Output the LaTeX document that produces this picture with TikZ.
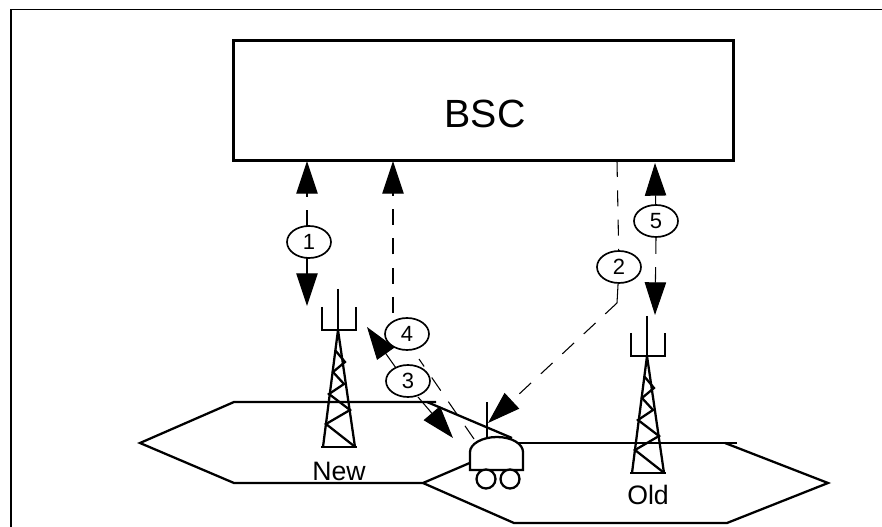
\documentclass[tikz,border=0pt]{standalone}
\usepackage{fontspec}
\setmainfont{Liberation Sans}
\usetikzlibrary{arrows.meta,shapes.geometric}
\tikzset{
  x=0.75pt,y=-0.75pt,
  thickline/.style={line width=1.7pt,line join=miter,black},
  sig/.style={line width=0.8pt,dash pattern=on 12pt off 10pt,black},
  tipstyle/.tip={Triangle[length=24.5pt,width=16pt,black]},
  tag/.style={draw,line width=1.25pt,ellipse,fill=white,minimum width=33pt,minimum height=24pt,inner sep=0pt,font=\fontsize{16.5}{16.5}\selectfont},
  label/.style={font=\fontsize{20}{20}\selectfont,inner sep=0pt}
}
\newcommand{\mytower}[3]{% #1=x of mast, #2=y of apex, #3=mast top
  \begin{scope}[shift={(#1,#2)},thickline]
    \draw (0,#3) -- (0,0);
    \draw (-16,-23) -- (-16,0) -- (18,0) -- (18,-23);
    \draw (0,0) -- (-15,117) (0,0) -- (17,117);
    \draw (-17,117) -- (19,117);
    \draw (-3,20) -- (7,32) -- (-5,42) -- (6,54) -- (-9,64) -- (12,80) -- (-12,94) -- (16,116);
  \end{scope}}
\newcommand{\lowdigit}[1]{\raisebox{-3pt}{#1}}
\begin{document}
\begin{tikzpicture}
\useasboundingbox (0,0) rectangle (882,527);
\fill[white] (0,0) rectangle (882,527);
% frame
\draw[line width=1.4pt] (11,540) -- (11,9.5) -- (890,9.5);
% hexagons
\draw[thickline] (436,402) -- (234,402) -- (140,443) -- (234,483) -- (423,483) -- (472,462);
\draw[thickline] (427,402) -- (512,438);
\draw[thickline] (725,443) -- (828,483) -- (727,523) -- (514,523) -- (423,483);
\draw[thickline] (512,443) -- (737,443);
% towers
\mytower{338}{330}{-41}
\mytower{647}{356}{-40}
\node[label] (new) at (339,471) {New};
\node[label] (old) at (648,495) {Old};
% BSC
\node[draw,thickline,fill=white,minimum width=375pt,minimum height=90pt,inner sep=0pt] (bsc) at (483.5,100.5) {};
\node[font=\fontsize{29.5}{29.5}\selectfont,inner sep=0pt] (bsctext) at (485,114) {BSC};
% mobile
\coordinate (mast) at (487,437);
\coordinate (masttop) at (487,402);
\draw[thickline,fill=white] (470,470) -- (470,452) .. controls (470,444) and (482,437) .. (497,437) .. controls (512,437) and (523,444) .. (523,452) -- (523,470) -- cycle;
\draw[thickline] (mast) -- (masttop);
\draw[thickline,fill=white] (486,479) circle (9.5);
\draw[thickline,fill=white] (510,479) circle (9.5);
% tags
\node[tag] (c1) at (309,242) {\lowdigit{1}};
\node[tag] (c2) at (619,267) {\lowdigit{2}};
\node[tag] (c3) at (408,381) {\lowdigit{3}};
\node[tag] (c4) at (407,334) {\lowdigit{4}};
\node[tag] (c5) at (656,221) {\lowdigit{5}};
% connectors
\coordinate (a1t) at (307,161);
\coordinate (a1s) at (307,226);
\coordinate (a1e) at (307,258);
\coordinate (a1b) at (307,306);
\draw[sig,-tipstyle] (a1s) -- (a1t);
\draw[sig,-tipstyle,solid] (a1e) -- (a1b);
\coordinate (a4t) at (393,161);
\coordinate (a4s) at (393,313);
\draw[sig,-tipstyle] (a4s) -- (a4t);
\coordinate (a4m) at (474,439);
\coordinate (a4a) at (419,359);
\draw[sig] (a4m) -- (a4a);
\coordinate (a4h) at (367,327);
\coordinate (a4h0) at (396,368);
\draw[sig,-tipstyle,solid] (a4h0) -- (a4h);
\coordinate (a3s) at (418,397);
\coordinate (a3t) at (453,438);
\draw[sig,-tipstyle,solid] (a3s) -- (a3t);
\coordinate (b2) at (617,161);
\coordinate (k2) at (617,303);
\coordinate (a2t) at (488,423);
\draw[sig] (b2) -- (c2);
\draw[line width=.8pt] (c2) -- (k2);
\draw[sig,-tipstyle] (k2) -- (a2t);
\coordinate (a5t) at (655,163);
\coordinate (a5b) at (655,315);
\draw[sig,-tipstyle,solid] (c5) -- (a5t);
\draw[sig,-tipstyle] (c5.south) -- (a5b);
\end{tikzpicture}
\end{document}
